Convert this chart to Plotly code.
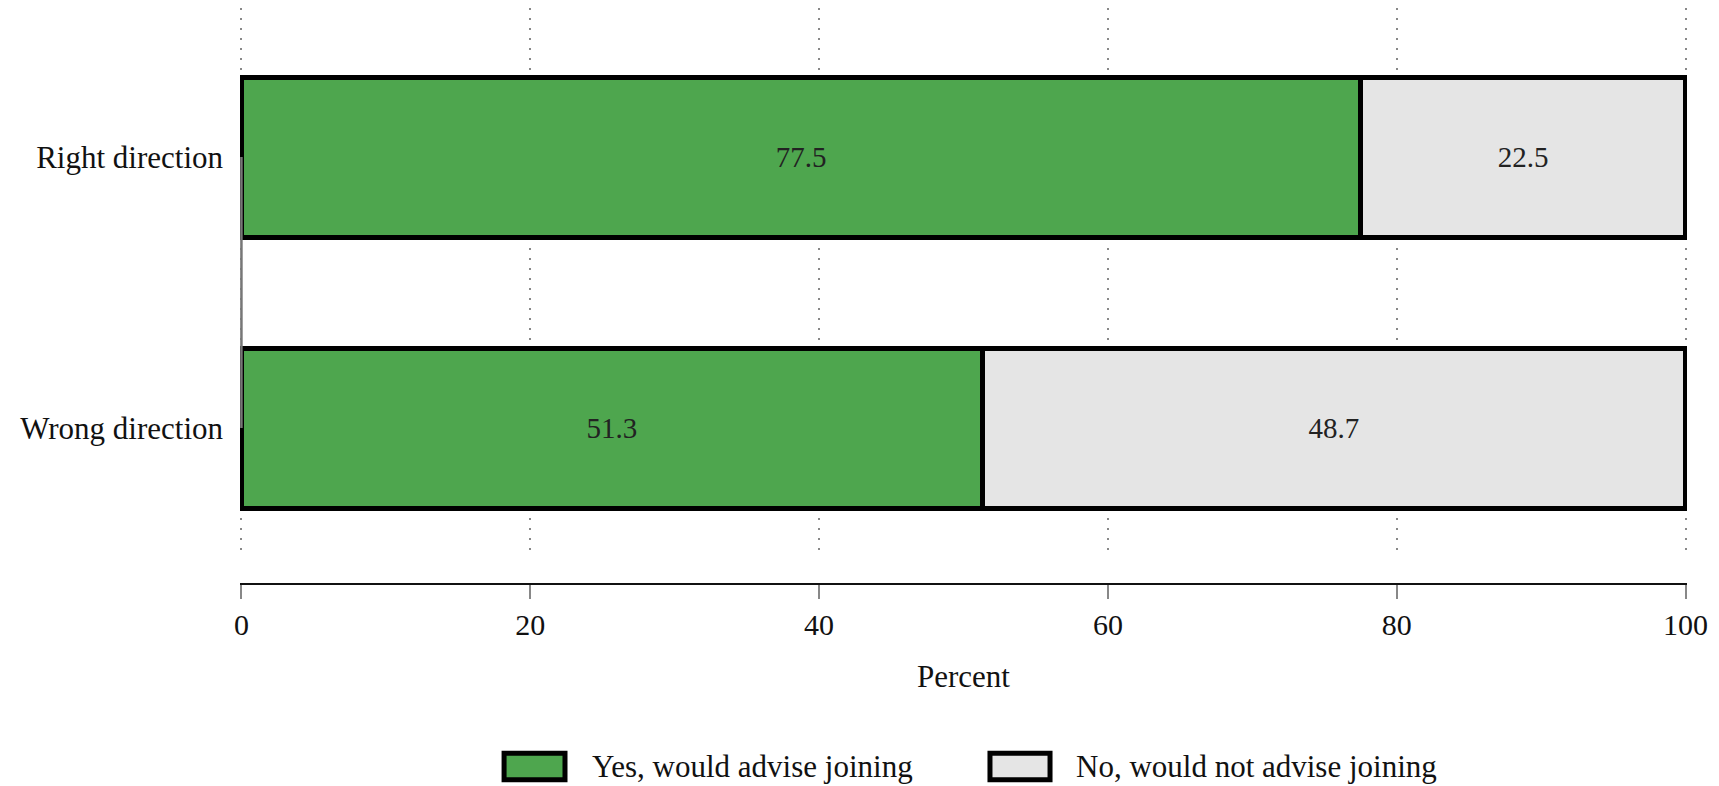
import plotly.graph_objects as go

categories = ["Wrong direction", "Right direction"]
yes_vals = [51.3, 77.5]
no_vals = [48.7, 22.5]
series_names = ["Yes, would advise joining", "No, would not advise joining"]
series_colors = ["#4ea64e", "#e5e5e5"]
x_ticks = [0, 20, 40, 60, 80, 100]

FONT = "Liberation Serif"
FS = 31

fig = go.Figure()
for name, vals, col in zip(series_names, [yes_vals, no_vals], series_colors):
    fig.add_trace(go.Bar(
        y=categories, x=vals, name=name, orientation="h",
        marker=dict(color=col, line=dict(color="black", width=5)),
        width=0.59,
        text=[f"{v:.1f}" for v in vals],
        textposition="inside", insidetextanchor="middle",
        textfont=dict(family=FONT, size=29, color="#222"),
        textangle=0,
        showlegend=False,
    ))

# y-axis line between category centres
fig.add_shape(type="line", xref="x", yref="y", x0=0, x1=0,
              y0=categories[0], y1=categories[1],
              line=dict(color="#777", width=2.5), layer="above")

# manual legend
leg_boxes = [(0.1825, 0.2246), (0.5183, 0.5598)]
leg_text_x = [0.2419, 0.5764]
for (x0, x1), tx, name, col in zip(leg_boxes, leg_text_x, series_names, series_colors):
    fig.add_shape(type="rect", xref="paper", yref="paper", x0=x0, x1=x1,
                  y0=-0.340, y1=-0.294, fillcolor=col,
                  line=dict(color="black", width=5))
    fig.add_annotation(xref="paper", yref="paper", x=tx, y=-0.317,
                       text=name, showarrow=False, xanchor="left", yanchor="middle",
                       font=dict(family=FONT, size=FS, color="#111"))

fig.update_layout(
    barmode="stack",
    width=1711, height=778,
    margin=dict(l=232, r=32, t=0, b=202),
    plot_bgcolor="white", paper_bgcolor="white",
    font=dict(family=FONT, size=FS, color="#111"),
    showlegend=False,
    xaxis=dict(
        range=[-0.1, 100.1], tickvals=x_ticks, anchor="free", position=0,
        showline=True, linecolor="#111", linewidth=2,
        ticks="outside", ticklen=14, tickwidth=2, tickcolor="#888",
        showgrid=True, gridcolor="#888", griddash="2px,8px", gridwidth=1.5,
        zeroline=False,
        title=dict(text="Percent", standoff=24, font=dict(family=FONT, size=FS)),
        tickfont=dict(family=FONT, size=30),
    ),
    yaxis=dict(
        domain=[0.0538, 1], range=[-0.461, 1.550],
        categoryorder="array", categoryarray=categories,
        showline=False, showgrid=False, zeroline=False,
        ticks="", ticklabelstandoff=16,
        tickfont=dict(family=FONT, size=FS),
    ),
)

fig.write_html("out.html")
